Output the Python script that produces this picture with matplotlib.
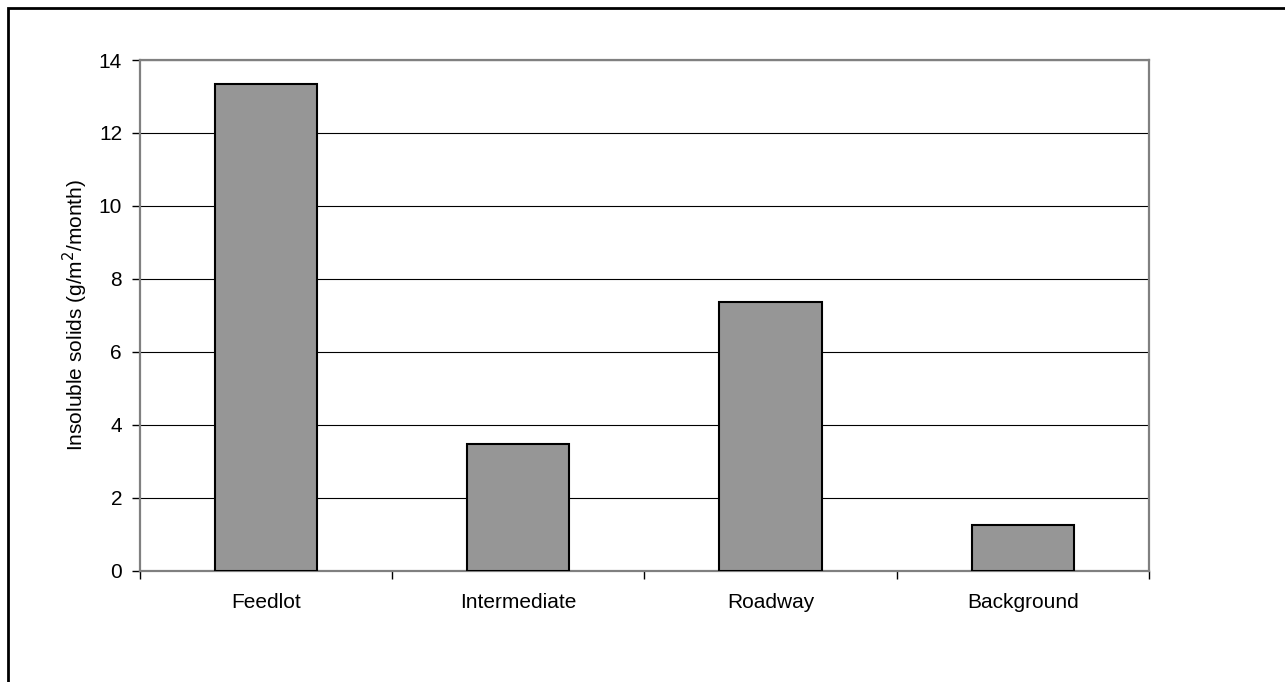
import numpy as np
import matplotlib.pyplot as plt
from matplotlib.patches import Rectangle

plt.rcParams['font.family'] = ['Liberation Sans', 'DejaVu Sans']

sites = ['Feedlot', 'Intermediate', 'Roadway', 'Background']
solids = [13.35, 3.48, 7.37, 1.26]

fig = plt.figure(figsize=(12.85, 6.82), dpi=100)
ax = fig.add_axes([0.109, 0.163, 0.785, 0.749])

x = np.arange(len(sites))
ax.bar(x, solids, width=0.405, color='#969696', edgecolor='black', linewidth=1.5, zorder=3)

ax.set_xlim(-0.5, len(sites) - 0.5)
ax.set_ylim(0, 14)
ax.set_yticks(np.arange(0, 15, 2))
ax.yaxis.grid(True, color='black', linewidth=0.8, zorder=0)
ax.set_axisbelow(True)

# category labels between boundary ticks
ax.set_xticks(np.arange(-0.5, len(sites)), minor=False)
ax.set_xticklabels([])
ax.set_xticks(x, minor=True)
ax.set_xticklabels(sites, minor=True)
ax.tick_params(axis='x', which='major', length=6, width=1, color='black')
ax.tick_params(axis='x', which='minor', length=0, pad=16, labelsize=15)
ax.tick_params(axis='y', length=6, width=1, color='black', labelsize=15, pad=7)

for s in ax.spines.values():
    s.set_color('#808080')
    s.set_linewidth(1.6)

ax.set_ylabel('Insoluble solids (g/m$^2$/month)', fontsize=15, labelpad=6)

# frame round the whole chart
fig.patches.append(Rectangle((8 / 1285, -0.1), 1.2, 1 - 8 / 682 + 0.1,
                             transform=fig.transFigure, fill=False,
                             edgecolor='black', linewidth=2))

fig.savefig('out.png', dpi=100)
